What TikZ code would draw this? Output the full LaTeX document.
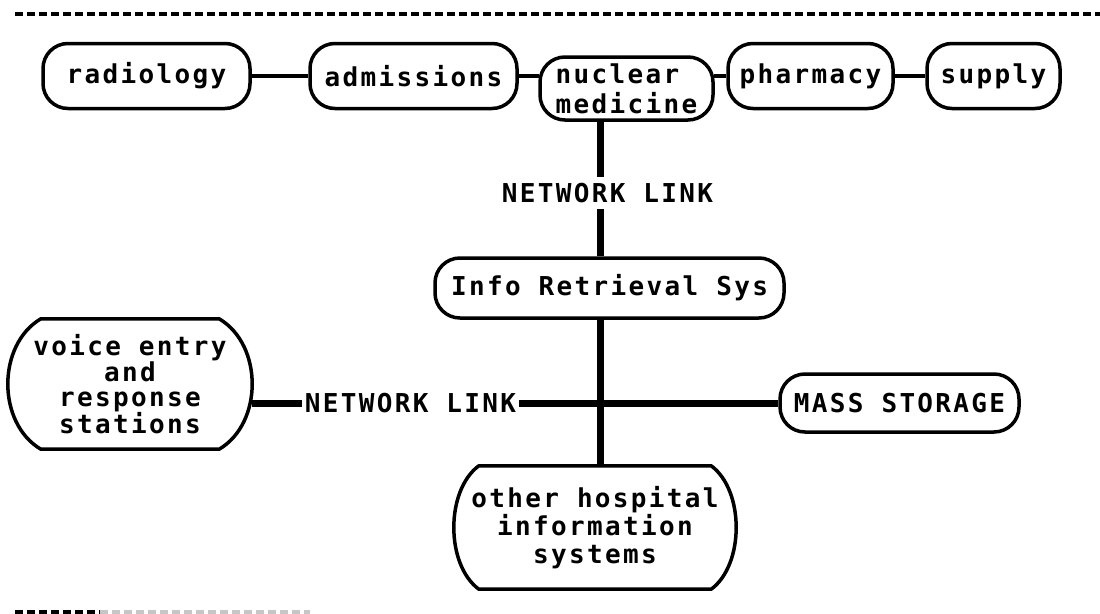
\documentclass[tikz,border=0pt]{standalone}
\usepackage{fontspec}
\newfontfamily\dvm{DejaVu Sans Mono}[LetterSpace=9.0]
\usetikzlibrary{calc}
\newcommand{\labelfont}{\dvm\bfseries\fontsize{26}{28}\selectfont}
\newcommand{\barrelshape}[2]{%
  \draw[boxline] ([xshift=#2]#1.north west) -- ([xshift=-#2]#1.north east)
    .. controls ($(#1.north east)!0.2!(#1.south east)+(#2/3,0)$) and ($(#1.north east)!0.8!(#1.south east)+(#2/3,0)$) .. ([xshift=-#2]#1.south east)
    -- ([xshift=#2]#1.south west)
    .. controls ($(#1.north west)!0.8!(#1.south west)+(-#2/3,0)$) and ($(#1.north west)!0.2!(#1.south west)+(-#2/3,0)$) .. cycle;}
\tikzset{
  boxline/.style={line width=3.5pt, line join=round},
  pill/.style={draw, boxline, rounded corners=25pt, inner sep=0pt, font=\labelfont},
  barrel/.style={inner sep=0pt, align=center},
  txt/.style={inner sep=0pt, font=\labelfont},
  thinlink/.style={line width=3.8pt},
  thicklink/.style={line width=7pt},
  rule/.style={line width=3.5pt, dash pattern=on 8pt off 4pt},
}
\begin{document}
\begin{tikzpicture}[x=1pt,y=-1pt]
\useasboundingbox (0,0) rectangle (1100,613);
\fill[white] (0,0) rectangle (1100,613);

% top dashed rule
\coordinate (r1) at (15,14);
\coordinate (r2) at (1100,14);
\draw[rule] (r1) -- (r2);
% bottom faded rule
\coordinate (b1) at (15,612);
\coordinate (b2) at (100,612);
\coordinate (b3) at (310,612);
\draw[rule] (b1) -- (b2);
\draw[rule, gray!45] (b2) -- (b3);

% top row
\node[pill, minimum width=207pt, minimum height=65pt] (rad) at (146.5,76) {radiology};
\node[pill, minimum width=207pt, minimum height=65pt] (adm) at (413.5,76) {admissions};
\node[pill, minimum width=173pt, minimum height=63pt, align=left,
      font=\dvm\bfseries\fontsize{26}{30}\selectfont] (nuc) at (626.5,88.5) {nuclear\\medicine};
\node[pill, minimum width=165pt, minimum height=65pt] (pha) at (810.5,76) {pharmacy};
\node[pill, minimum width=133pt, minimum height=65pt] (sup) at (993.5,76) {supply};

\draw[thinlink] (rad.east) -- (adm.west);
\draw[thinlink] (adm.east) -- ([xshift=1pt]adm.east -| nuc.west);
\draw[thinlink] ([xshift=-1pt]nuc.east |- pha.west) -- (pha.west);
\draw[thinlink] (pha.east) -- (sup.west);

% central column
\coordinate (sx) at (600,0);
\node[txt, inner ysep=6pt] (nl1) at (607.5,193) {NETWORK LINK};
\node[pill, minimum width=349pt, minimum height=60pt] (info) at (609.5,288) {Info Retrieval Sys};

\node[barrel, font=\dvm\bfseries\fontsize{26}{25}\selectfont, minimum width=244pt, minimum height=130pt] (voice) at (130,384)
  {voice entry\\and\\response\\stations};
\barrelshape{voice}{33pt}

\node[barrel, font=\dvm\bfseries\fontsize{26}{28}\selectfont, minimum width=282pt, minimum height=123pt] (oth) at (595,527.5)
  {other hospital\\information\\systems};
\barrelshape{oth}{25pt}

\node[txt, inner xsep=3pt] (nl2) at (410.5,403) {NETWORK LINK};
\node[pill, minimum width=239pt, minimum height=58pt] (mass) at (899.5,403) {MASS STORAGE};

\draw[thicklink] (nuc.south -| sx) -- (nl1.north -| sx);
\draw[thicklink] (nl1.south -| sx) -- (info.north -| sx);
\draw[thicklink] (info.south -| sx) -- (oth.north -| sx);
\draw[thicklink] (voice.east |- nl2.west) -- (nl2.west);
\draw[thicklink] (nl2.east) -- (mass.west);
\end{tikzpicture}
\end{document}
